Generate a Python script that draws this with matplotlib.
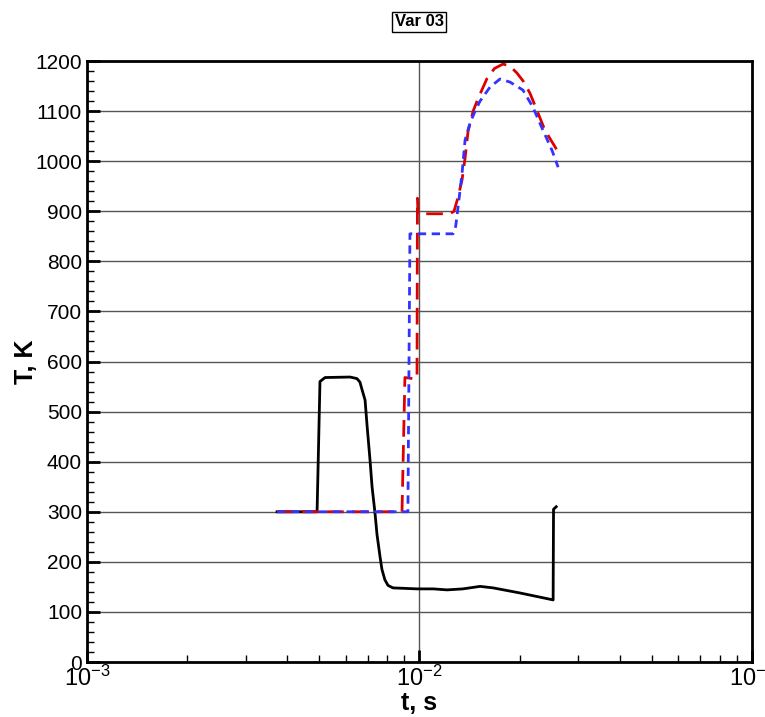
import matplotlib
matplotlib.use("Agg")
import matplotlib.pyplot as plt
from matplotlib.ticker import LogLocator, MultipleLocator, NullFormatter

plt.rcParams['font.family'] = ['Liberation Sans', 'DejaVu Sans']
plt.rcParams['mathtext.fontset'] = 'custom'
plt.rcParams['mathtext.rm'] = 'Liberation Sans'
plt.rcParams['mathtext.it'] = 'Liberation Sans:italic'
plt.rcParams['mathtext.bf'] = 'Liberation Sans:bold'

# Black solid series
t_black = [0.00373, 0.00492, 0.00495, 0.00502, 0.00520, 0.00618, 0.00648, 0.00662,
           0.00671, 0.00686, 0.00696, 0.00710, 0.00720, 0.00735, 0.00745, 0.00761,
           0.00771, 0.00787, 0.00804, 0.00832, 0.00983, 0.01100, 0.01210, 0.01350,
           0.01521, 0.01665, 0.02000, 0.02523, 0.02530, 0.02577]
T_black = [300, 300, 377, 560, 568, 569, 566, 559,
           545, 523, 470, 403, 350, 297, 255, 210,
           185, 164, 153, 148, 146, 146, 144, 146,
           151, 148, 138, 124, 305, 310]

# Red dashed series
t_red = [0.00373, 0.00886, 0.00904, 0.00975, 0.00983, 0.00986, 0.00990, 0.01236,
         0.01270, 0.01306, 0.01343, 0.01371, 0.01400, 0.01450, 0.01500, 0.01596,
         0.01680, 0.01783, 0.01870, 0.01964, 0.02050, 0.02148, 0.02260, 0.02383,
         0.02592]
T_red = [300, 300, 568, 565, 570, 926, 895, 895,
         900, 928, 963, 1006, 1060, 1100, 1125, 1165,
         1185, 1194, 1190, 1176, 1160, 1136, 1100, 1062,
         1022]

# Blue dotted series
t_blue = [0.00373, 0.00923, 0.00936, 0.01262, 0.01285, 0.01306, 0.01343, 0.01371,
          0.01419, 0.01470, 0.01521, 0.01630, 0.01746, 0.01871, 0.02047, 0.02193,
          0.02351, 0.02502, 0.02612]
T_blue = [300, 300, 855, 855, 870, 908, 976, 1042,
          1076, 1100, 1120, 1148, 1164, 1158, 1142, 1108,
          1062, 1022, 988]

fig = plt.figure(figsize=(7.65, 7.17), dpi=100)
ax = fig.add_axes([0.1137, 0.0767, 0.983 - 0.1137, 0.9149 - 0.0767])

ax.set_xscale('log')
ax.set_xlim(1e-3, 1e-1)
ax.set_ylim(0, 1200)

ax.plot(t_black, T_black, color='black', lw=2.0, solid_joinstyle='round', zorder=3)
ax.plot(t_red, T_red, color='#dd0000', lw=2.0, linestyle=(0, (6, 3)), zorder=4)
ax.plot(t_blue, T_blue, color='#3333ff', lw=2.0, linestyle=(0, (3, 2)), zorder=5)

ax.yaxis.set_major_locator(MultipleLocator(100))
ax.yaxis.set_minor_locator(MultipleLocator(20))
ax.xaxis.set_major_locator(LogLocator(base=10, numticks=10))
ax.xaxis.set_minor_locator(LogLocator(base=10, subs=range(2, 10), numticks=20))
ax.xaxis.set_minor_formatter(NullFormatter())

ax.grid(True, which='major', axis='both', color='#555555', lw=1.0, zorder=1)

ax.tick_params(axis='both', which='major', direction='in', length=9, width=2,
               labelsize=15, top=False, right=False)
ax.tick_params(axis='both', which='minor', direction='in', length=5, width=1,
               top=False, right=False)
ax.tick_params(axis='x', which='major', labelsize=17, pad=3)

for s in ax.spines.values():
    s.set_linewidth(2)
    s.set_zorder(6)

ax.set_xlabel('t, s', fontsize=18, fontweight='bold', labelpad=0)
ax.set_ylabel('T, K', fontsize=18, fontweight='bold', labelpad=-2)
ax.set_title('Var 03', fontsize=12, fontweight='bold', pad=25,
             bbox=dict(boxstyle='square,pad=0.15', facecolor='white', edgecolor='black', lw=1))

fig.savefig('out.png', dpi=100)
